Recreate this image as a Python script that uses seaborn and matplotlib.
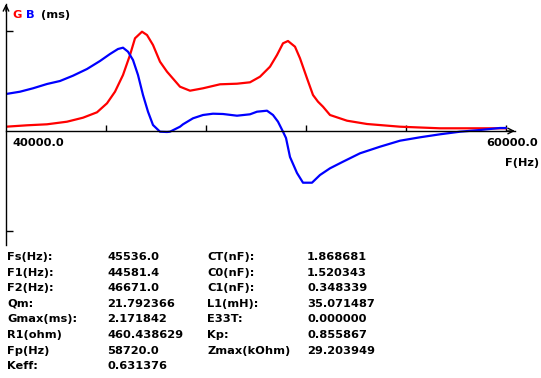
import matplotlib
matplotlib.use("Agg")
import matplotlib.pyplot as plt
import seaborn as sns
import pandas as pd

# ---- data ----
freq_g = [40000, 40840, 41640, 42440, 43080, 43640, 44040, 44360, 44680, 44960,
          45160, 45440, 45640, 45880, 46160, 46440, 46960, 47360, 47880, 48560,
          49240, 49760, 50160, 50560, 50840, 51080, 51280, 51560, 51760, 52040,
          52280, 52480, 52680, 52960, 53640, 54440, 55760, 57360, 58960, 60000]
g_vals = [0.043, 0.057, 0.067, 0.093, 0.133, 0.187, 0.277, 0.393, 0.56, 0.76,
          0.927, 0.993, 0.96, 0.86, 0.693, 0.593, 0.443, 0.403, 0.427, 0.467,
          0.473, 0.487, 0.543, 0.643, 0.76, 0.877, 0.90, 0.843, 0.727, 0.527,
          0.36, 0.293, 0.243, 0.16, 0.103, 0.07, 0.043, 0.027, 0.027, 0.027]

freq_b = [40000, 40560, 41080, 41640, 42160, 42680, 43240, 43760, 44160, 44480,
          44680, 44880, 45080, 45280, 45480, 45680, 45880, 46160, 46440, 46560,
          46960, 47080, 47480, 47880, 48280, 48680, 49240, 49760, 50040, 50440,
          50680, 50880, 51080, 51200, 51360, 51640, 51880, 52240, 52560, 52960,
          53480, 54160, 54960, 55760, 56560, 57360, 58160, 58960, 59760, 60000]
b_vals = [0.37, 0.393, 0.427, 0.47, 0.50, 0.553, 0.62, 0.70, 0.77, 0.82,
          0.833, 0.793, 0.71, 0.56, 0.36, 0.193, 0.06, -0.007, -0.01, -0.007,
          0.043, 0.067, 0.127, 0.16, 0.173, 0.17, 0.153, 0.167, 0.193, 0.203,
          0.16, 0.093, -0.007, -0.07, -0.26, -0.42, -0.517, -0.517, -0.44, -0.373,
          -0.307, -0.223, -0.157, -0.097, -0.063, -0.033, -0.007, 0.01, 0.03, 0.03]

x_ticks = [44000, 48000, 52000, 56000, 60000]
y_ticks = [-1.0, 1.0]
x_min_label = "40000.0"
x_max_label = "60000.0"

params_col1 = ["Fs(Hz):", "F1(Hz):", "F2(Hz):", "Qm:", "Gmax(ms):", "R1(ohm)", "Fp(Hz)", "Keff:"]
params_val1 = ["45536.0", "44581.4", "46671.0", "21.792366", "2.171842", "460.438629", "58720.0", "0.631376"]
params_col2 = ["CT(nF):", "C0(nF):", "C1(nF):", "L1(mH):", "E33T:", "Kp:", "Zmax(kOhm)"]
params_val2 = ["1.868681", "1.520343", "0.348339", "35.071487", "0.000000", "0.855867", "29.203949"]

# ---- figure ----
sns.set_style("white")
plt.rcParams['font.family'] = ['DejaVu Sans']
W, H = 541, 378
fig = plt.figure(figsize=(W / 100, H / 100), dpi=100)
fig.patch.set_facecolor("white")

def fx(px):
    return px / W

def fy(py):
    return 1 - py / H

ax_left, ax_right, ax_top, ax_bottom = 6, 515, 4, 245
ax = fig.add_axes([fx(ax_left), fy(ax_bottom), (ax_right - ax_left) / W, (ax_bottom - ax_top) / H])
ax.set_facecolor("white")

df_g = pd.DataFrame({"f": freq_g, "v": g_vals})
df_b = pd.DataFrame({"f": freq_b, "v": b_vals})
sns.lineplot(data=df_g, x="f", y="v", ax=ax, color="#ff0000", lw=1.6, estimator=None)
sns.lineplot(data=df_b, x="f", y="v", ax=ax, color="#0000ff", lw=1.6, estimator=None)

ax.set_xlim(40000, 40000 + (ax_right - ax_left) * 40)
ax.set_ylim(-(ax_bottom - 131) / 100, (131 - ax_top) / 100)

for s in ["top", "right"]:
    ax.spines[s].set_visible(False)
ax.spines["bottom"].set_position(("data", 0))
for s in ["bottom", "left"]:
    ax.spines[s].set_color("black")
    ax.spines[s].set_linewidth(1)

ax.set_xticks(x_ticks)
ax.set_yticks(y_ticks)
ax.tick_params(axis="x", direction="in", length=4, width=1, labelbottom=False, color="black", bottom=True)
ax.tick_params(axis="y", direction="in", length=5, width=1, labelleft=False, color="black", left=True)
ax.set_xlabel("")
ax.set_ylabel("")
ax.grid(False)

# arrow heads
ax.annotate("", xy=(1.0, 0), xycoords=("axes fraction", "data"),
            xytext=(0.985, 0), textcoords=("axes fraction", "data"),
            arrowprops=dict(arrowstyle="->", lw=1, color="black", shrinkA=0, shrinkB=0,
                            mutation_scale=10), annotation_clip=False)
ax.annotate("", xy=(0, 1.0), xycoords="axes fraction",
            xytext=(0, 0.97), textcoords="axes fraction",
            arrowprops=dict(arrowstyle="->", lw=1, color="black", shrinkA=0, shrinkB=0,
                            mutation_scale=10), annotation_clip=False)

fs = 8.2
bold = dict(fontsize=fs, fontweight="bold", va="center")
fig.text(fx(12), fy(15), "G", color="#ff0000", ha="left", **bold)
fig.text(fx(26), fy(15), "B", color="#0000ff", ha="left", **bold)
fig.text(fx(41), fy(15), "(ms)", color="black", ha="left", **bold)

fig.text(fx(12), fy(143), x_min_label, color="black", ha="left", **bold)
fig.text(fx(538), fy(143), x_max_label, color="black", ha="right", **bold)
fig.text(fx(539), fy(163), "F(Hz)", color="black", ha="right", **bold)

row0, dy = 257, 15.6
for i, (n, v) in enumerate(zip(params_col1, params_val1)):
    fig.text(fx(7), fy(row0 + i * dy), n, color="black", ha="left", **bold)
    fig.text(fx(107), fy(row0 + i * dy), v, color="black", ha="left", **bold)
for i, (n, v) in enumerate(zip(params_col2, params_val2)):
    fig.text(fx(207), fy(row0 + i * dy), n, color="black", ha="left", **bold)
    fig.text(fx(307), fy(row0 + i * dy), v, color="black", ha="left", **bold)

fig.savefig("out.png", dpi=100, facecolor="white")
